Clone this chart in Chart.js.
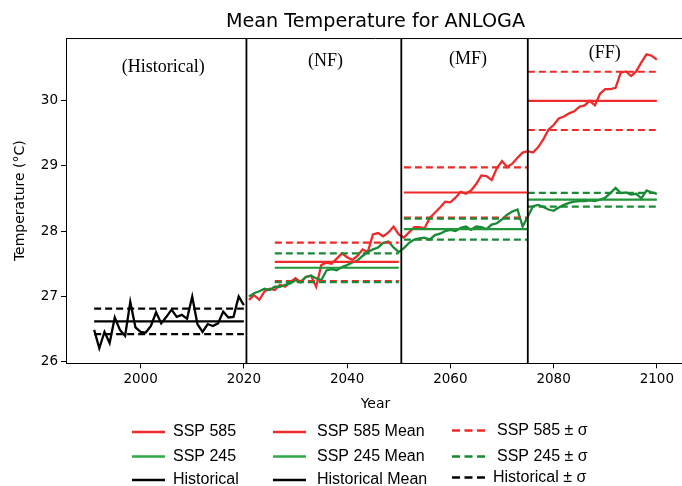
<!DOCTYPE html>
<html><head><meta charset="utf-8">
<script src="https://cdn.jsdelivr.net/npm/chart.js@4.4.1/dist/chart.umd.min.js"></script>
<style>
html,body{margin:0;padding:0;overflow:hidden;background:#fff;width:682px;height:486px;}
#wrap{position:relative;width:682px;height:486px;overflow:hidden;background:#fff;}
#c{position:absolute;left:0;top:0;}
</style></head><body>
<div id="wrap"><canvas id="c" width="720" height="486"></canvas></div>
<script>
// ---------------- data ----------------
const histStartYear = 1991;
const sspStartYear = 2021;
const historical = [26.49, 26.21, 26.46, 26.29, 26.68, 26.49, 26.40, 26.92, 26.53, 26.46,
  26.45, 26.55, 26.76, 26.59, 26.69, 26.80, 26.69, 26.72, 26.66, 27.00,
  26.58, 26.46, 26.58, 26.55, 26.59, 26.77, 26.68, 26.69, 27.00, 26.87];
const ssp585 = [26.95, 27.02, 26.95, 27.08, 27.12, 27.10, 27.18, 27.15, 27.22, 27.28,
  27.22, 27.30, 27.32, 27.15, 27.48, 27.52, 27.50, 27.58, 27.66, 27.60,
  27.56, 27.62, 27.72, 27.68, 27.95, 27.97, 27.92, 27.98, 28.07, 27.95,
  27.90, 27.98, 28.06, 28.06, 28.04, 28.20, 28.28, 28.36, 28.45, 28.44,
  28.51, 28.60, 28.57, 28.62, 28.72, 28.85, 28.84, 28.78, 28.96, 29.07,
  28.98, 29.03, 29.12, 29.20, 29.22, 29.20, 29.28, 29.40, 29.55, 29.62,
  29.72, 29.75, 29.80, 29.83, 29.90, 29.92, 29.99, 29.92, 30.10, 30.17,
  30.17, 30.19, 30.42, 30.44, 30.37, 30.44, 30.58, 30.70, 30.68, 30.62];
const ssp245 = [27.00, 27.05, 27.08, 27.12, 27.10, 27.15, 27.15, 27.18, 27.20, 27.25,
  27.22, 27.30, 27.32, 27.28, 27.25, 27.40, 27.42, 27.40, 27.45, 27.48,
  27.52, 27.55, 27.62, 27.68, 27.72, 27.75, 27.82, 27.84, 27.75, 27.68,
  27.74, 27.82, 27.87, 27.89, 27.90, 27.87, 27.94, 27.96, 28.00, 28.02,
  28.00, 28.05, 28.07, 28.02, 28.07, 28.06, 28.03, 28.10, 28.12, 28.18,
  28.25, 28.30, 28.33, 28.07, 28.22, 28.38, 28.40, 28.37, 28.33, 28.31,
  28.36, 28.40, 28.43, 28.45, 28.46, 28.46, 28.47, 28.46, 28.48, 28.51,
  28.58, 28.66, 28.58, 28.59, 28.56, 28.57, 28.50, 28.62, 28.59, 28.57];
const histPeriod = [1991, 2020];
const histMean = [26.62];
const histSd = [0.195];
const periodNames = ['(NF)', '(MF)', '(FF)'];
const periodStart = [2026, 2051, 2075];
const periodEnd = [2050, 2075, 2100];
const ssp585Mean = [27.53, 28.59, 29.99];
const ssp585Sd = [0.295, 0.385, 0.445];
const ssp245Mean = [27.44, 28.03, 28.48];
const ssp245Sd = [0.22, 0.16, 0.105];
const dividerYears = [2020.5, 2050.5, 2075];
const xTickValues = [2000, 2020, 2040, 2060, 2080, 2100];
const yTickValues = [26, 27, 28, 29, 30];
const xRange = [1985.55, 2105.45];
const yRange = [25.98, 30.95];

// text annotations (anchors in data coordinates)
const periodLabelText = ['(Historical)', '(NF)', '(MF)', '(FF)'];
const periodLabelX = [2004.4, 2035.8, 2063.4, 2089.9];
const periodLabelY = [30.50, 30.59, 30.63, 30.71];

// legend entries (column-major, like the original 3-column legend)
const legendLabels = ['SSP 585', 'SSP 245', 'Historical',
  'SSP 585 Mean', 'SSP 245 Mean', 'Historical Mean',
  'SSP 585 ± σ', 'SSP 245 ± σ', 'Historical ± σ'];

// ---------------- styles ----------------
const RED = '#ee2a2a';
const GREEN = '#1a8a34';
const GREEN_MEAN = '#1f9638';
const BLACK = '#000000';
const NONE = 'rgba(0,0,0,0)';
const DASH = [7, 4];
const legendColors = ['#f02a2a', '#2eaa48', BLACK, '#f02a2a', '#2eaa48', BLACK, '#f02a2a', '#168a2e', BLACK];
const legendDashed = [false, false, false, false, false, false, true, true, true];

const toPts = (start, arr) => arr.map((v, i) => ({x: start + i, y: v}));
const seg = (a, b, y) => [{x: a, y: y}, {x: b, y: y}];

const layers = []; // bottom -> top
layers.push({label: 'Historical', data: toPts(histStartYear, historical), borderColor: BLACK, borderWidth: 2.3});
layers.push({label: 'SSP 585', data: toPts(sspStartYear, ssp585), borderColor: RED, borderWidth: 2.3});
layers.push({label: 'SSP 245', data: toPts(sspStartYear, ssp245), borderColor: GREEN, borderWidth: 2.3});
layers.push({label: 'Historical Mean', data: seg(histPeriod[0], histPeriod[1], histMean[0]), borderColor: BLACK, borderWidth: 2.2});
layers.push({label: 'Historical +σ', data: seg(histPeriod[0], histPeriod[1], histMean[0] + histSd[0]), borderColor: BLACK, borderWidth: 2.2, borderDash: DASH});
layers.push({label: 'Historical -σ', data: seg(histPeriod[0], histPeriod[1], histMean[0] - histSd[0]), borderColor: BLACK, borderWidth: 2.2, borderDash: DASH});
periodStart.forEach((s, i) => {
  const e = periodEnd[i];
  layers.push({label: 'SSP 585 Mean ' + periodNames[i], data: seg(s, e, ssp585Mean[i]), borderColor: RED, borderWidth: 2.2});
  layers.push({label: 'SSP 585 +σ ' + periodNames[i], data: seg(s, e, ssp585Mean[i] + ssp585Sd[i]), borderColor: RED, borderWidth: 2.2, borderDash: DASH});
  layers.push({label: 'SSP 585 -σ ' + periodNames[i], data: seg(s, e, ssp585Mean[i] - ssp585Sd[i]), borderColor: RED, borderWidth: 2.2, borderDash: DASH});
  layers.push({label: 'SSP 245 Mean ' + periodNames[i], data: seg(s, e, ssp245Mean[i]), borderColor: GREEN_MEAN, borderWidth: 2.2});
  layers.push({label: 'SSP 245 +σ ' + periodNames[i], data: seg(s, e, ssp245Mean[i] + ssp245Sd[i]), borderColor: GREEN, borderWidth: 2.2, borderDash: DASH});
  layers.push({label: 'SSP 245 -σ ' + periodNames[i], data: seg(s, e, ssp245Mean[i] - ssp245Sd[i]), borderColor: GREEN, borderWidth: 2.2, borderDash: DASH});
});
const datasets = layers.map(d => Object.assign({pointRadius: 0, pointHoverRadius: 0, tension: 0, fill: false, borderCapStyle: 'butt'}, d)).reverse();

const framePlugin = {
  id: 'frame',
  afterDatasetsDraw(chart) {
    const {ctx, chartArea: a, scales: {x, y}} = chart;
    ctx.save();
    ctx.strokeStyle = BLACK;
    ctx.lineWidth = 1.8;
    dividerYears.forEach(v => {
      const px = x.getPixelForValue(v);
      ctx.beginPath(); ctx.moveTo(px, a.top); ctx.lineTo(px, a.bottom); ctx.stroke();
    });
    ctx.fillStyle = BLACK;
    ctx.font = '18px "Liberation Serif", "Times New Roman", serif';
    ctx.textAlign = 'center';
    ctx.textBaseline = 'middle';
    periodLabelText.forEach((t, i) => {
      ctx.fillText(t, x.getPixelForValue(periodLabelX[i]), y.getPixelForValue(periodLabelY[i]));
    });
    ctx.restore();
  },
  afterDraw(chart) {
    const {ctx, chartArea: a} = chart;
    ctx.save();
    // the axes' right spine lies outside the cropped view: keep the strip near the crop edge clean
    ctx.fillStyle = '#ffffff';
    ctx.fillRect(a.right - 12, a.top + 1, 60, a.bottom - a.top - 2);
    // top spine
    ctx.strokeStyle = BLACK;
    ctx.lineWidth = 1;
    ctx.beginPath(); ctx.moveTo(a.left, a.top + 0.5); ctx.lineTo(a.right, a.top + 0.5); ctx.stroke();
    ctx.restore();
  }
};

const legendPlugin = {
  id: 'colLegend',
  afterDraw(chart) {
    const ctx = chart.ctx;
    const colLineX = [132, 273, 452];
    const colTextX = [173, 317, 497];
    const rowY = [432, 456.5, 480];
    ctx.save();
    ctx.font = '16px "Liberation Sans", Arial, sans-serif';
    ctx.textAlign = 'left';
    ctx.textBaseline = 'middle';
    legendLabels.forEach((label, i) => {
      const col = Math.floor(i / 3), row = i % 3;
      let cy = rowY[row];
      if (col === 2) cy -= (row === 2 ? 2.5 : (row === 0 ? 1.5 : 0));
      ctx.strokeStyle = legendColors[i];
      ctx.lineWidth = 2.4;
      ctx.setLineDash(legendDashed[i] ? [8, 4.5] : []);
      ctx.beginPath(); ctx.moveTo(colLineX[col], cy); ctx.lineTo(colLineX[col] + 33, cy); ctx.stroke();
      ctx.fillStyle = BLACK;
      ctx.fillText(label, colTextX[col] - (col === 2 && row === 2 ? 4 : 0), cy);
    });
    ctx.restore();
  }
};

const tickFont = {family: '"DejaVu Sans", sans-serif', size: 13.5};
const titleFont = {family: '"DejaVu Sans", sans-serif', size: 14};

new Chart(document.getElementById('c'), {
  type: 'line',
  data: {datasets: datasets},
  options: {
    responsive: false,
    animation: false,
    events: [],
    layout: {padding: {left: 0, right: 35, top: 0, bottom: 0}},
    plugins: {
      legend: {display: false},
      tooltip: {enabled: false},
      title: {
        display: true, text: 'Mean Temperature for ANLOGA', fullSize: false,
        color: BLACK, font: {family: '"DejaVu Sans", sans-serif', size: 19.2, weight: 'normal'},
        padding: {top: 10, bottom: 5}
      }
    },
    scales: {
      x: {
        type: 'linear', min: xRange[0], max: xRange[1],
        afterBuildTicks: s => { s.ticks = xTickValues.map(v => ({value: v})); },
        afterFit: s => { s.height = 122.7; },
        ticks: {color: BLACK, font: tickFont, padding: 3, maxRotation: 0, callback: v => String(v)},
        grid: {drawOnChartArea: false, drawTicks: true, tickLength: 5, tickColor: BLACK, tickWidth: 1, color: NONE},
        border: {display: true, color: BLACK, width: 1},
        title: {display: true, text: 'Year', color: BLACK, font: titleFont, padding: {top: 0, bottom: 73.6}}
      },
      y: {
        type: 'linear', min: yRange[0], max: yRange[1],
        afterBuildTicks: s => { s.ticks = yTickValues.map(v => ({value: v})); },
        afterFit: s => { s.width = 66; },
        ticks: {color: BLACK, font: tickFont, padding: 3, callback: v => String(v)},
        grid: {drawOnChartArea: false, drawTicks: true, tickLength: 5, tickColor: BLACK, tickWidth: 1, color: NONE},
        border: {display: true, color: BLACK, width: 1},
        title: {display: true, text: 'Temperature (°C)', color: BLACK, font: titleFont, padding: {top: 11.6, bottom: 0}}
      }
    }
  },
  plugins: [framePlugin, legendPlugin]
});
</script>
</body></html>
